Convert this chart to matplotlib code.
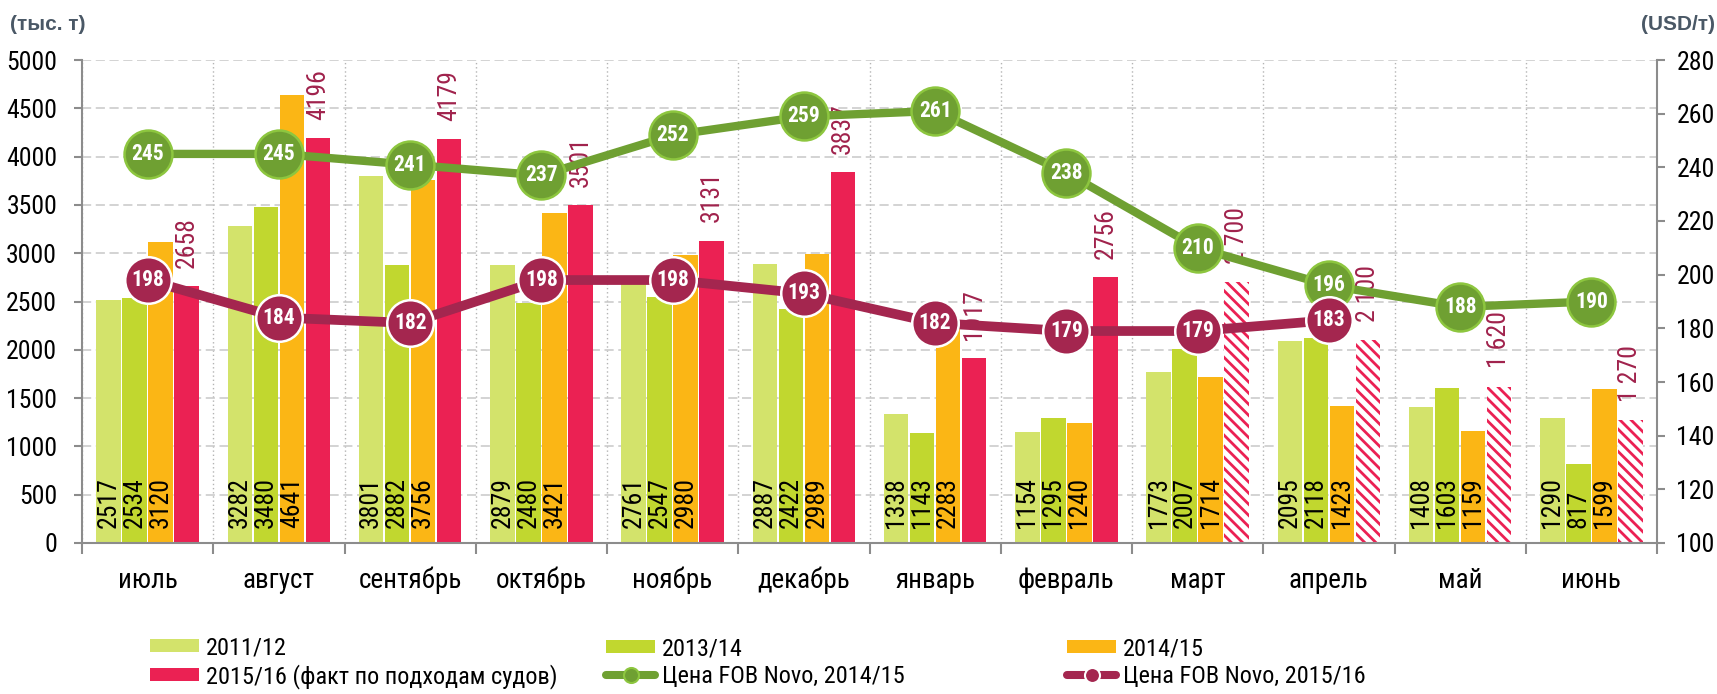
import numpy as np
import matplotlib
matplotlib.use("Agg")
from matplotlib import pyplot as plt
from matplotlib import font_manager
from matplotlib.patches import Patch
from matplotlib.lines import Line2D

## Pick a narrow font if one is installed, else plain Liberation Sans a bit smaller
installed = {f.name for f in font_manager.fontManager.ttflist}
narrow = None
for cand in ['Liberation Sans Narrow', 'Arial Narrow', 'Roboto Condensed', 'Open Sans Condensed']:
    if cand in installed:
        narrow = cand
        break
FAM = narrow if narrow else 'Liberation Sans'
K = 1.0 if narrow else 0.83

plt.rcParams['font.family'] = [FAM, 'Liberation Sans', 'DejaVu Sans']
plt.rcParams['hatch.linewidth'] = 2.0

## Data
months = ['июль', 'август', 'сентябрь', 'октябрь', 'ноябрь', 'декабрь',
          'январь', 'февраль', 'март', 'апрель', 'май', 'июнь']
exp_2011 = [2517, 3282, 3801, 2879, 2761, 2887, 1338, 1154, 1773, 2095, 1408, 1290]
exp_2013 = [2534, 3480, 2882, 2480, 2547, 2422, 1143, 1295, 2007, 2118, 1603, 817]
exp_2014 = [3120, 4641, 3756, 3421, 2980, 2989, 2283, 1240, 1714, 1423, 1159, 1599]
exp_2015 = [2658, 4196, 4179, 3501, 3131, 3837, 1917, 2756, 2700, 2100, 1620, 1270]
exp_2015_labels = ['2658', '4196', '4179', '3501', '3131', '3837', '1917', '2756',
                   '2 700', '2 100', '1 620', '1 270']
is_forecast = [False] * 8 + [True] * 4
price_2014 = [245, 245, 241, 237, 252, 259, 261, 238, 210, 196, 188, 190]
price_2015 = [198, 184, 182, 198, 198, 193, 182, 179, 179, 183]

series_names = ['2011/12', '2013/14', '2014/15', '2015/16 (факт по подходам судов)']
line_names = ['Цена FOB Novo, 2014/15', 'Цена FOB Novo, 2015/16']

## Colours
c_lg = '#d3e36b'
c_g = '#c1d72f'
c_or = '#fbb615'
c_red = '#eb2153'
c_line_g = '#6fa032'
c_line_g_edge = '#8dc63f'
c_purple = '#a4264f'
c_lab_red = '#a0224c'
c_grey = '#8c8c8c'

fig = plt.figure(figsize=(17.17, 6.94), dpi=100)
ax = fig.add_axes([82 / 1717, 1 - 543 / 694, (1657 - 82) / 1717, (543 - 60) / 694])
ax2 = ax.twinx()

x = np.arange(len(months))
pitch = 0.198
width = 0.186
lab_fs = 18.5 * K

for i, (vals, col) in enumerate([(exp_2011, c_lg), (exp_2013, c_g), (exp_2014, c_or)]):
    xs = x + (i - 1.5) * pitch
    ax.bar(xs, vals, width=width, color=col, linewidth=0, zorder=2)
    for xi, v in zip(xs, vals):
        ax.annotate(str(v), (xi, 0), xytext=(0, 11), textcoords='offset points',
                    rotation=90, ha='center', va='bottom', fontsize=lab_fs,
                    color='black', zorder=3)

xs_red = x + 1.5 * pitch
for xi, v, lab, fc in zip(xs_red, exp_2015, exp_2015_labels, is_forecast):
    if fc:
        ax.bar(xi, v, width=width, facecolor='white', edgecolor=c_red, hatch='\\\\\\',
               linewidth=0, zorder=2)
    else:
        ax.bar(xi, v, width=width, color=c_red, linewidth=0, zorder=2)
    ax.annotate(lab, (xi, v), xytext=(0, 13), textcoords='offset points',
                rotation=90, ha='center', va='bottom', fontsize=lab_fs,
                color=c_lab_red, zorder=3)

## Price lines on right axis
ax2.plot(x, price_2014, color=c_line_g, lw=6, marker='o', ms=34.5,
         mfc=c_line_g, mec=c_line_g_edge, mew=1.8, zorder=5, solid_capstyle='round')
for xi, v in zip(x, price_2014):
    ax2.text(xi, v, str(v), ha='center', va='center', color='white',
             fontsize=15.5 * K, fontweight='bold', zorder=6)
xp = x[:len(price_2015)]
ax2.plot(xp, price_2015, color=c_purple, lw=7, marker='o', ms=33.5,
         mfc=c_purple, mec='white', mew=1.8, zorder=5, solid_capstyle='round')
for xi, v in zip(xp, price_2015):
    ax2.text(xi, v, str(v), ha='center', va='center', color='white',
             fontsize=15.5 * K, fontweight='bold', zorder=6)

## Axes
ax.set_xlim(-0.5, 11.5)
ax.set_ylim(0, 5000)
ax.set_yticks(np.arange(0, 5001, 500))
ax2.set_ylim(100, 280)
ax2.set_yticks(np.arange(100, 281, 20))

ax.set_xticks(x)
ax.set_xticklabels(months, fontsize=19.5 * K)
ax.set_xticks(np.arange(-0.5, 12, 1), minor=True)
ax.tick_params(axis='x', which='major', length=0, pad=17)
ax.tick_params(axis='x', which='minor', length=8, width=1.5, color=c_grey)
ax.tick_params(axis='y', labelsize=18.5 * K, length=6, width=1.5, color=c_grey, pad=12)
ax2.tick_params(axis='y', labelsize=18.5 * K, length=6, width=1.5, color=c_grey, pad=8)

ax.grid(axis='y', which='major', color='#c8c8c8', lw=1.1, ls=(0, (6, 3)), zorder=0)
ax.grid(axis='x', which='minor', color='#b4b4b4', lw=1.0, ls=(0, (1, 2)), zorder=0)
ax.set_axisbelow(True)

for a in (ax, ax2):
    a.spines['top'].set_visible(False)
    for s in ('left', 'right', 'bottom'):
        a.spines[s].set_color(c_grey)
        a.spines[s].set_linewidth(1.5)
ax.spines['right'].set_visible(False)
ax2.spines['left'].set_visible(False)
ax2.spines['bottom'].set_visible(False)

## Unit labels
fig.text(10 / 1717, 1 - 24 / 694, '(тыс. т)', family='Liberation Sans', fontsize=15,
         fontweight='bold', color='#4a5866', ha='left', va='center')
fig.text(1715 / 1717, 1 - 24 / 694, '(USD/т)', family='Liberation Sans', fontsize=15,
         fontweight='bold', color='#4a5866', ha='right', va='center')

## Legend: three columns
h_lg = Patch(facecolor=c_lg)
h_g = Patch(facecolor=c_g)
h_or = Patch(facecolor=c_or)
h_red = Patch(facecolor=c_red)
h_lgreen = Line2D([], [], color=c_line_g, lw=5.8, marker='o', ms=10.8,
                  mfc=c_line_g, mec=c_line_g_edge, mew=1.5, solid_capstyle='round')
h_lpurp = Line2D([], [], color=c_purple, lw=5.8, marker='o', ms=10.8,
                 mfc=c_purple, mec='white', mew=1.5, solid_capstyle='round')

leg_fs = 17.5 * K
px = leg_fs * 100 / 72
columns = [([h_lg, h_red], [series_names[0], series_names[3]], 150),
           ([h_g, h_lgreen], [series_names[1], line_names[0]], 606),
           ([h_or, h_lpurp], [series_names[2], line_names[1]], 1067)]
for handles, labels, xpix in columns:
    fig.legend(handles, labels, loc='center left',
               bbox_to_anchor=(xpix / 1717, 1 - 662.5 / 694),
               frameon=False, fontsize=leg_fs, handlelength=49 / px,
               handleheight=11 / px, handletextpad=7 / px, labelspacing=0.2,
               borderpad=0, borderaxespad=0)

fig.savefig('out.png', dpi=100)
